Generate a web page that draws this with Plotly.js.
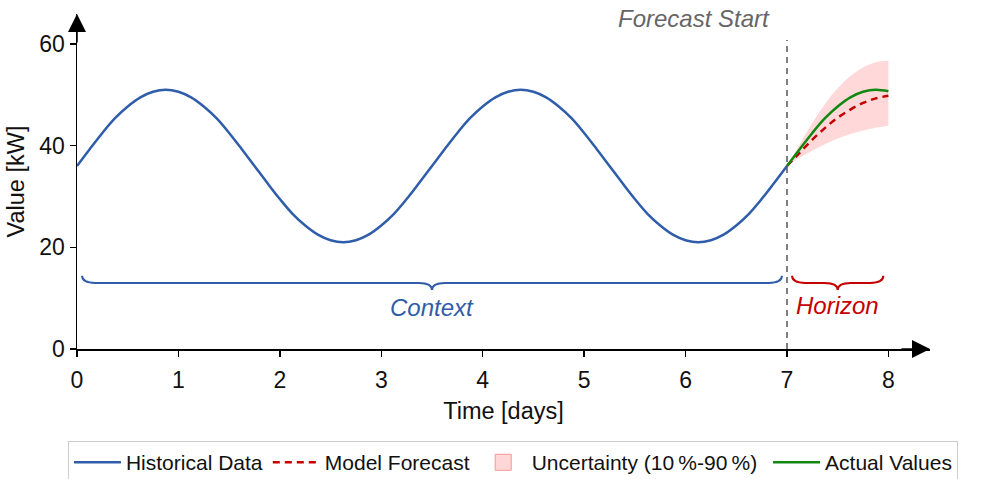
<!DOCTYPE html>
<html>
<head>
<meta charset="utf-8">
<script src="https://cdn.plot.ly/plotly-3.0.1.min.js"></script>
<style>
html,body{margin:0;padding:0;background:#fff;}
#chart{width:982px;height:479px;}
</style>
</head>
<body>
<div id="chart"></div>
<script>
// ---- data ----
const histX = [0,0.125,0.25,0.375,0.5,0.625,0.75,0.875,1,1.125,1.25,1.375,1.5,1.625,1.75,1.875,2,2.125,2.25,2.375,2.5,2.625,2.75,2.875,3,3.125,3.25,3.375,3.5,3.625,3.75,3.875,4,4.125,4.25,4.375,4.5,4.625,4.75,4.875,5,5.125,5.25,5.375,5.5,5.625,5.75,5.875,6,6.125,6.25,6.375,6.5,6.625,6.75,6.875,7];
const histY = [36.0,39.3,42.5,45.4,47.7,49.5,50.6,51.0,50.6,49.5,47.7,45.4,42.5,39.3,36.0,32.7,29.5,26.6,24.3,22.5,21.4,21.0,21.4,22.5,24.3,26.6,29.5,32.7,36.0,39.3,42.5,45.4,47.7,49.5,50.6,51.0,50.6,49.5,47.7,45.4,42.5,39.3,36.0,32.7,29.5,26.6,24.3,22.5,21.4,21.0,21.4,22.5,24.3,26.6,29.5,32.7,36.0];
const fcX = [7,7.125,7.25,7.375,7.5,7.625,7.75,7.875,8];
const actualY = [36.0,39.3,42.5,45.4,47.7,49.5,50.6,51.0,50.7];
const forecastY = [36.0,38.6,41.2,43.5,45.5,47.1,48.4,49.3,49.8];
const upperY = [36.0,40.3,44.5,48.2,51.3,53.7,55.4,56.4,56.7];
const lowerY = [36.0,37.6,39.0,40.3,41.4,42.3,43.0,43.5,43.9];
const xTicks = [0,1,2,3,4,5,6,7,8];
const yTicks = [0,20,40,60];
const contextSpan = [0.05, 6.95];
const horizonSpan = [7.05, 7.95];
const braceLevel = 13;
const forecastStart = 7;

// ---- styles ----
const BLUE = '#2f5daa', RED = '#c40000', GREEN = '#118811', FONT = 'Liberation Sans, Arial, Helvetica, sans-serif';
const BAND = 'rgba(255,170,170,0.45)';

function brace(x0, x1, y, color) {
  const xm = (x0 + x1) / 2, dx = 0.13, dy = 1.4;
  const p = `M ${x0},${y+dy} Q ${x0},${y} ${x0+dx},${y} L ${xm-dx},${y} Q ${xm},${y} ${xm},${y-dy} Q ${xm},${y} ${xm+dx},${y} L ${x1-dx},${y} Q ${x1},${y} ${x1},${y+dy}`;
  return {type:'path', xref:'x', yref:'y', path:p, line:{color:color, width:2}};
}

const traces = [
  {x: fcX, y: lowerY, mode:'lines', line:{width:0, color:'rgba(0,0,0,0)', shape:'spline'}, showlegend:false, hoverinfo:'skip'},
  {x: fcX, y: upperY, mode:'lines', fill:'tonexty', fillcolor:BAND, line:{width:0, color:'rgba(0,0,0,0)', shape:'spline'}, showlegend:false, hoverinfo:'skip'},
  {x: histX, y: histY, mode:'lines', line:{color:BLUE, width:2.5, shape:'spline'}, name:'Historical Data', legendrank:1},
  {x: fcX, y: forecastY, mode:'lines', line:{color:RED, width:2.5, dash:'7px,5px', shape:'spline'}, name:'Model Forecast', legendrank:2},
  {x: [null], y: [null], mode:'markers', marker:{symbol:'square', size:20, color:'rgba(255,215,215,1)', line:{color:'rgba(245,150,150,1)', width:1}}, name:'Uncertainty (10\u2009%-90\u2009%)\u00a0', legendrank:3},
  {x: fcX, y: actualY, mode:'lines', line:{color:GREEN, width:2.5, shape:'spline'}, name:'Actual Values', legendrank:4}
];

const layout = {
  width:982, height:479,
  margin:{l:77, r:52, t:14, b:130, autoexpand:false},
  paper_bgcolor:'#fff', plot_bgcolor:'#fff',
  font:{family:FONT, size:23, color:'#111'},
  showlegend:true,
  legend:{orientation:'h', traceorder:'normal', x:-0.0106, xanchor:'left', y:-0.275, yanchor:'top', itemwidth:47,
          bordercolor:'#cccccc', borderwidth:1, bgcolor:'#fff', font:{size:21, family:FONT}, itemsizing:'trace'},
  xaxis:{range:[0,8.41], tickvals:xTicks, ticktext:xTicks.map(String), showgrid:false, zeroline:false,
         showline:true, linecolor:'#000', linewidth:1.5, ticks:'outside', ticklen:6, tickwidth:1.5, tickcolor:'#000',
         ticklabelstandoff:4,
         tickfont:{size:23}, title:{text:'Time [days]', font:{size:23.5}, standoff:10}, fixedrange:true},
  yaxis:{range:[0,65.9], tickvals:yTicks, ticktext:yTicks.map(String), showgrid:false, zeroline:false,
         showline:true, linecolor:'#000', linewidth:1.5, ticks:'outside', ticklen:6, tickwidth:1.5, tickcolor:'#000',
         tickfont:{size:23}, title:{text:'Value [kW]', font:{size:23.5}, standoff:8}, fixedrange:true},
  shapes:[
    {type:'line', xref:'x', yref:'y', x0:forecastStart, x1:forecastStart, y0:0, y1:60.8, line:{color:'#555', width:1.5, dash:'6px,5px'}},
    brace(contextSpan[0], contextSpan[1], braceLevel, BLUE),
    brace(horizonSpan[0], horizonSpan[1], braceLevel, RED)
  ],
  annotations:[
    {x:(contextSpan[0]+contextSpan[1])/2, y:8.1, xref:'x', yref:'y', text:'<i>Context</i>', showarrow:false, font:{size:24, color:BLUE}},
    {x:(horizonSpan[0]+horizonSpan[1])/2, y:8.5, xref:'x', yref:'y', text:'<i>Horizon</i>', showarrow:false, font:{size:24, color:RED}},
    {x:6.85, y:65, xref:'x', yref:'y', text:'<i>Forecast Start</i>', showarrow:false, xanchor:'right', font:{size:24, color:'#666'}},
    {x:8.41, y:0, xref:'x', yref:'y', ax:-30, ay:0, text:'', showarrow:true, arrowhead:2, arrowsize:2.4, arrowwidth:1.5, arrowcolor:'#000'},
    {x:0, y:65.9, xref:'x', yref:'y', ax:0, ay:30, text:'', showarrow:true, arrowhead:2, arrowsize:2.4, arrowwidth:1.5, arrowcolor:'#000'}
  ]
};

Plotly.newPlot('chart', traces, layout, {displayModeBar:false, staticPlot:true});
</script>
</body>
</html>
